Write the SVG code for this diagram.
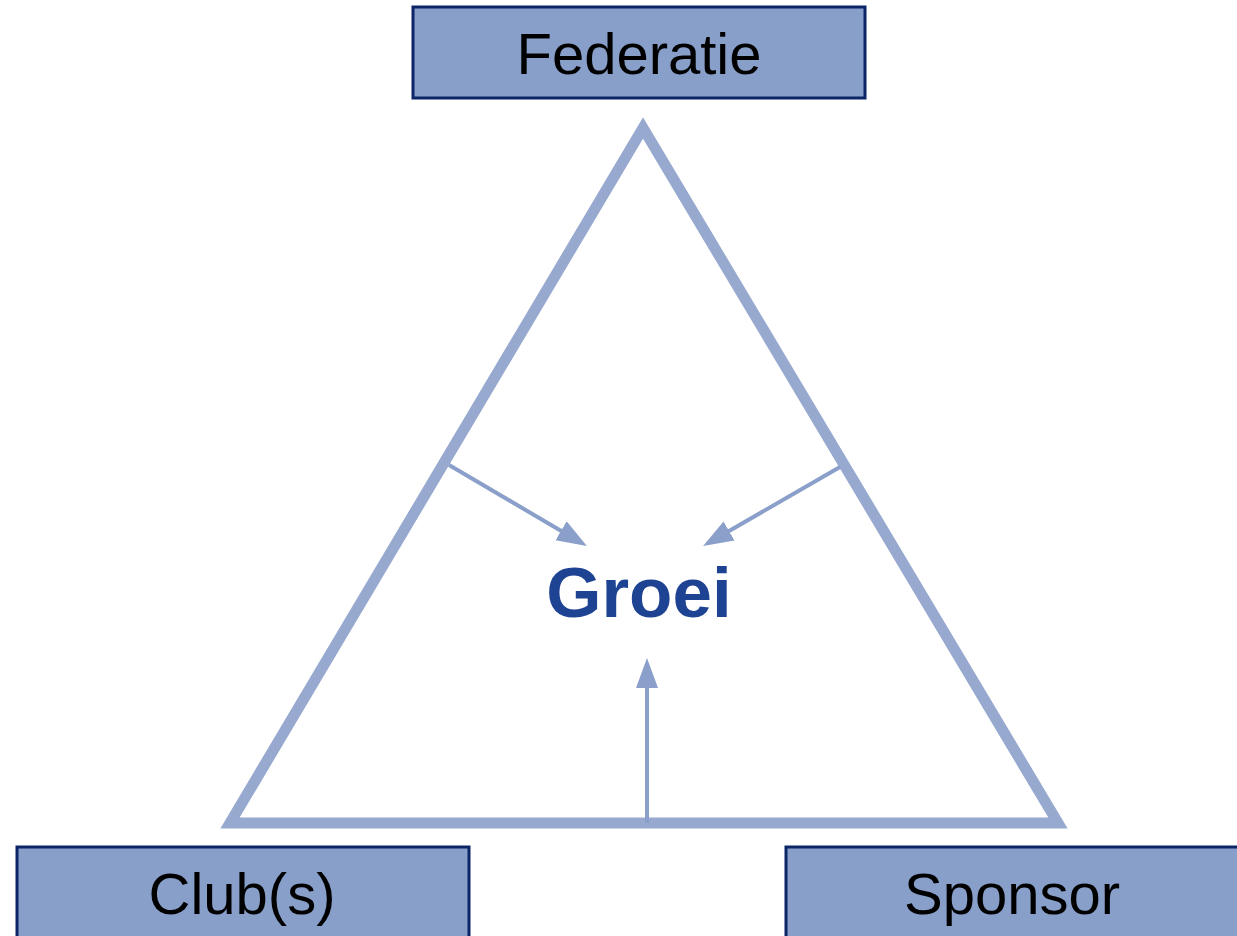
<svg xmlns="http://www.w3.org/2000/svg" width="1237" height="936" viewBox="0 0 1237 936">
<style>
.box{fill:#889fca;stroke:#0b2566;stroke-width:3}
.lbl{font-family:"Liberation Sans",Arial,sans-serif;font-size:58px;fill:#000;text-anchor:middle}
.arr{stroke:#8a9fc9;stroke-width:4;fill:none;stroke-linecap:butt}
</style>
<defs>
<marker id="head" markerUnits="userSpaceOnUse" markerWidth="32" markerHeight="24" viewBox="0 0 32 24" refX="22" refY="12" orient="auto">
<path d="M0,1 L30,12 L0,23 Z" fill="#8a9fc9"/>
</marker>
</defs>
<rect width="1237" height="936" fill="#fff"/>
<g id="triangle">
<polygon points="643,128 230,823 1058,823" fill="none" stroke="#98a9d0" stroke-width="11" stroke-linejoin="miter"/>
</g>
<g id="connectors">
<line class="arr" x1="449" y1="465" x2="580" y2="542" marker-end="url(#head)"/>
<line class="arr" x1="840" y1="467" x2="710" y2="542" marker-end="url(#head)"/>
<line class="arr" x1="647" y1="823" x2="647" y2="666" marker-end="url(#head)"/>
</g>
<g id="federatie">
<rect class="box" x="413" y="7" width="452" height="91"/>
<text class="lbl" x="639" y="74">Federatie</text>
</g>
<g id="groei">
<text x="639" y="617" font-family="Liberation Sans,Arial,sans-serif" font-weight="bold" font-size="71" fill="#1f4393" text-anchor="middle">Groei</text>
</g>
<g id="clubs">
<rect class="box" x="17" y="847" width="452" height="100"/>
<text class="lbl" x="242" y="914">Club(s)</text>
</g>
<g id="sponsor">
<rect class="box" x="786" y="847" width="460" height="100"/>
<text class="lbl" x="1012" y="914">Sponsor</text>
</g>
</svg>
